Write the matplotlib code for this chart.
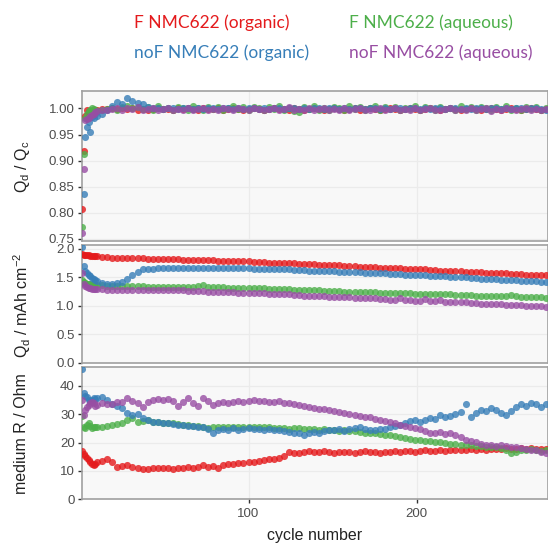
import numpy as np
import matplotlib
matplotlib.use("Agg")
import matplotlib.pyplot as plt

nan = np.nan

# cycle numbers (every cycle at start, then every 3rd cycle)
cycle = list(range(1, 10)) + list(range(10, 278, 3))

labels = ["F NMC622 (organic)", "F NMC622 (aqueous)",
          "noF NMC622 (organic)", "noF NMC622 (aqueous)"]
colors = ["#E41A1C", "#4DAF4A", "#377EB8", "#984EA3"]

# coulombic efficiency Qd / Qc
eff_F_org = [0.808, 0.918, 0.985, 0.998, 0.993, 0.995, 0.996, 0.997, 0.998,
             0.998, 0.999, 0.999, 1.000, 0.999, 1.000, 0.999, 1.000, 0.998, 0.999,
             0.998, 0.999, 1.000, 0.999, 0.999, 0.998, 1.000, 0.999, 1.000, 0.999,
             0.998, 1.000, 0.999, 0.999, 1.000, 0.998, 0.999, 1.000, 0.999, 0.998,
             0.999, 1.000, 0.999, 0.998, 0.999, 1.000, 0.999, 0.999, 0.998, 1.000,
             0.999, 0.998, 0.999, 1.000, 0.999, 0.998, 0.999, 1.000, 0.999, 0.998,
             0.999, 1.000, 0.998, 0.999, 1.000, 0.999, 0.998, 0.999, 1.000, 0.999,
             0.998, 0.999, 1.000, 0.999, 0.998, 0.999, 1.000, 0.999, 0.998, 0.999,
             1.000, 0.999, 0.998, 0.999, 1.000, 0.999, 0.998, 0.999, 1.000, 0.999,
             0.998, 0.999, 1.000, 0.999, 0.998, 0.999, 1.000, 0.999, 0.998, 0.999]
eff_F_aq = [0.773, 0.913, 0.982, 0.990, 0.996, 0.998, 1.000, 0.999, 0.997,
            0.995, 0.997, 0.999, 1.001, 0.998, 1.002, 1.004, 1.000, 1.003, 0.999,
            1.002, 0.998, 1.004, 0.999, 1.001, 0.997, 1.003, 1.000, 0.998, 1.005,
            1.001, 0.998, 1.003, 0.999, 1.002, 0.997, 1.001, 1.004, 0.999, 1.002,
            0.998, 1.003, 1.000, 0.997, 1.002, 0.999, 1.004, 0.998, 1.001, 0.996,
            0.993, 1.002, 0.999, 1.004, 0.998, 1.001, 0.997, 1.003, 1.000, 0.998,
            1.005, 0.999, 1.002, 0.997, 1.001, 1.004, 0.998, 1.002, 0.999, 1.003,
            0.997, 1.001, 0.999, 1.005, 0.998, 1.002, 1.000, 0.997, 1.003, 0.999,
            1.001, 0.998, 1.004, 0.999, 1.002, 0.997, 1.003, 1.000, 0.998, 1.002,
            0.999, 1.004, 0.997, 1.001, 0.998, 1.003, 0.999, 1.002, 0.997, 1.000]
eff_noF_org = [nan, 0.836, 0.946, 0.965, 0.975, 0.955, 0.984, 0.982, 0.990,
               0.985, 0.990, 0.998, 1.004, 1.012, 1.008, 1.021, 1.014, 1.010, 1.008,
               1.003, 1.001, 1.000, 0.999, 1.001, 1.000, 0.999, 1.000, 1.001, 0.999,
               1.000, 0.999, 1.001, 1.000, 0.999, 1.000, 1.001, 0.999, 1.000, 0.999,
               1.000, 1.001, 0.999, 1.000, 0.999, 1.001, 1.000, 0.999, 1.000, 1.001,
               0.999, 1.000, 0.999, 1.001, 1.000, 0.999, 1.000, 1.001, 0.999, 1.000,
               0.999, 1.001, 1.000, 0.999, 1.000, 1.001, 0.999, 1.000, 0.999, 1.001,
               1.000, 0.999, 1.000, 1.001, 0.999, 1.000, 0.999, 1.001, 1.000, 0.999,
               1.000, 1.001, 0.999, 1.000, 0.999, 1.001, 1.000, 0.999, 1.000, 1.001,
               0.999, 1.000, 0.999, 1.001, 1.000, 0.999, 1.000, 1.001, 0.999, 0.998]
eff_noF_aq = [0.761, 0.884, 0.977, 0.980, 0.982, 0.985, 0.988, 0.990, 0.993,
              0.995, 0.997, 0.998, 0.999, 1.001, 0.998, 1.000, 0.999, 1.002, 0.998,
              0.999, 1.000, 0.998, 0.999, 1.001, 0.998, 0.999, 0.997, 1.000, 0.998,
              0.999, 1.000, 0.998, 0.999, 0.997, 1.000, 0.999, 0.998, 1.000, 0.999,
              0.998, 1.000, 0.999, 0.997, 0.999, 1.000, 0.998, 0.999, 1.002, 0.998,
              0.999, 0.997, 1.000, 0.998, 0.999, 1.001, 0.998, 0.999, 0.997, 1.000,
              0.998, 0.999, 1.000, 0.998, 0.997, 0.999, 1.000, 0.998, 0.999, 1.001,
              0.998, 0.999, 0.997, 1.000, 0.998, 0.999, 1.000, 0.998, 0.997, 0.999,
              1.000, 0.998, 0.999, 0.997, 1.000, 0.998, 0.999, 1.000, 0.996, 0.999,
              0.998, 1.000, 0.999, 0.997, 0.999, 1.000, 0.998, 0.999, 0.997, 0.999]

# discharge capacity Qd / mAh cm-2
cap_F_org = [1.91, 1.90, 1.90, 1.89, 1.89, 1.88, 1.88, 1.87, 1.87,
             1.87, 1.86, 1.86, 1.85, 1.85, 1.85, 1.84, 1.84, 1.84, 1.84,
             1.83, 1.83, 1.83, 1.82, 1.82, 1.82, 1.82, 1.81, 1.81, 1.81,
             1.80, 1.80, 1.80, 1.80, 1.79, 1.79, 1.79, 1.78, 1.78, 1.78,
             1.78, 1.77, 1.77, 1.77, 1.76, 1.76, 1.76, 1.75, 1.75, 1.75,
             1.74, 1.74, 1.73, 1.73, 1.72, 1.72, 1.72, 1.71, 1.71, 1.70,
             1.70, 1.70, 1.69, 1.69, 1.68, 1.68, 1.67, 1.67, 1.67, 1.66,
             1.66, 1.65, 1.65, 1.64, 1.64, 1.64, 1.63, 1.63, 1.62, 1.62,
             1.61, 1.61, 1.61, 1.60, 1.60, 1.59, 1.59, 1.58, 1.58, 1.58,
             1.57, 1.57, 1.56, 1.56, 1.56, 1.55, 1.55, 1.54, 1.54, 1.54]
cap_F_aq = [1.45, 1.42, 1.40, 1.39, 1.38, 1.38, 1.37, 1.37, 1.37,
            1.36, 1.36, 1.35, 1.35, 1.35, 1.35, 1.35, 1.35, 1.35, 1.35,
            1.34, 1.34, 1.34, 1.34, 1.34, 1.34, 1.34, 1.33, 1.33, 1.34,
            1.35, 1.36, 1.34, 1.33, 1.33, 1.33, 1.32, 1.32, 1.32, 1.32,
            1.32, 1.31, 1.31, 1.31, 1.30, 1.30, 1.29, 1.29, 1.29, 1.28,
            1.28, 1.28, 1.27, 1.27, 1.27, 1.26, 1.26, 1.26, 1.26, 1.25,
            1.25, 1.25, 1.24, 1.24, 1.24, 1.24, 1.23, 1.23, 1.23, 1.22,
            1.22, 1.22, 1.22, 1.21, 1.21, 1.21, 1.21, 1.20, 1.20, 1.20,
            1.20, 1.19, 1.19, 1.19, 1.19, 1.18, 1.18, 1.18, 1.18, 1.17,
            1.17, 1.17, 1.19, 1.17, 1.16, 1.16, 1.15, 1.15, 1.15, 1.14]
cap_noF_org = [2.04, 1.70, 1.62, 1.58, 1.55, 1.52, 1.49, 1.47, 1.45,
               1.44, 1.41, 1.39, 1.39, 1.40, 1.42, 1.48, 1.55, 1.60, 1.64,
               1.65, 1.65, 1.66, 1.66, 1.66, 1.67, 1.67, 1.67, 1.67, 1.67,
               1.67, 1.67, 1.67, 1.66, 1.66, 1.66, 1.66, 1.66, 1.66, 1.66,
               1.66, 1.65, 1.65, 1.65, 1.65, 1.64, 1.64, 1.64, 1.64, 1.63,
               1.63, 1.63, 1.62, 1.62, 1.62, 1.61, 1.61, 1.61, 1.60, 1.60,
               1.60, 1.59, 1.59, 1.58, 1.58, 1.58, 1.57, 1.57, 1.56, 1.56,
               1.56, 1.55, 1.55, 1.55, 1.54, 1.54, 1.53, 1.53, 1.52, 1.52,
               1.51, 1.51, 1.50, 1.50, 1.49, 1.49, 1.48, 1.48, 1.47, 1.47,
               1.46, 1.46, 1.45, 1.45, 1.44, 1.44, 1.43, 1.43, 1.42, 1.42]
cap_noF_aq = [1.57, 1.38, 1.35, 1.33, 1.32, 1.31, 1.30, 1.30, 1.29,
              1.29, 1.29, 1.28, 1.28, 1.28, 1.28, 1.28, 1.28, 1.28, 1.28,
              1.28, 1.28, 1.27, 1.27, 1.27, 1.27, 1.27, 1.27, 1.26, 1.26,
              1.26, 1.26, 1.25, 1.25, 1.25, 1.24, 1.24, 1.24, 1.23, 1.23,
              1.23, 1.22, 1.22, 1.22, 1.21, 1.21, 1.20, 1.20, 1.20, 1.19,
              1.19, 1.18, 1.18, 1.17, 1.17, 1.17, 1.16, 1.16, 1.15, 1.15,
              1.15, 1.14, 1.14, 1.13, 1.13, 1.13, 1.12, 1.12, 1.11, 1.11,
              1.13, 1.10, 1.10, 1.09, 1.09, 1.12, 1.08, 1.08, 1.10, 1.07,
              1.07, 1.06, 1.06, 1.06, 1.05, 1.05, 1.04, 1.04, 1.03, 1.03,
              1.03, 1.02, 1.02, 1.01, 1.01, 1.00, 1.00, 0.99, 0.99, 0.98]

# medium resistance / Ohm
res_F_org = [17.0, 16.0, 15.3, 14.5, 13.8, 13.2, 12.6, 12.2, 12.6,
             13.0, 13.6, 14.2, 13.2, 11.5, 11.8, 12.0, 11.4, 11.1, 10.8,
             10.7, 10.9, 11.1, 11.0, 10.9, 10.8, 11.2, 11.0, 11.3, 11.0,
             11.5, 12.0, 11.3, 11.6, 11.2, 12.1, 12.4, 12.3, 12.8, 12.9,
             13.2, 13.3, 13.6, 13.9, 14.1, 14.3, 14.6, 15.2, 16.5, 16.3,
             16.4, 16.7, 16.9, 16.5, 16.8, 17.0, 16.6, 16.3, 16.7, 16.5,
             16.8, 16.4, 16.6, 16.9, 16.5, 16.7, 16.4, 16.8, 16.6, 16.9,
             16.7, 16.9, 17.1, 16.8, 17.0, 17.2, 16.9, 17.1, 17.3, 17.0,
             17.4, 17.2, 17.5, 17.3, 17.6, 17.4, 17.7, 17.5, 17.8, 17.6,
             17.7, 17.9, 17.6, 17.8, 18.0, 17.7, 17.9, 17.8, 17.6, 17.8]
res_F_aq = [29.5, 25.5, 25.0, 26.0, 26.8, 25.8, 25.0, 25.3, 25.6,
            25.4, 25.6, 25.8, 26.0, 26.4, 26.8, 27.9, 28.5, 27.4, 27.6,
            27.9, 27.3, 27.2, 27.0, 26.8, 26.9, 26.5, 26.3, 26.2, 25.8,
            25.9, 25.6, 25.2, 25.5, 25.3, 25.6, 25.4, 25.5, 25.3, 25.6,
            25.5, 25.4, 25.6, 25.3, 25.4, 25.2, 25.0, 25.2, 24.9, 25.0,
            25.1, 24.8, 24.6, 24.9, 24.5, 24.7, 24.4, 24.5, 24.2, 24.3,
            24.0, 23.9, 23.6, 23.4, 23.3, 23.2, 22.9, 22.8, 22.5, 22.3,
            22.0, 21.7, 21.4, 21.0, 20.9, 20.6, 20.4, 20.2, 20.1, 19.8,
            19.6, 19.4, 19.3, 19.1, 19.0, 18.8, 18.6, 18.4, 18.3, 18.5,
            18.2, 17.4, 16.3, 16.6, 17.2, 17.5, 17.8, 17.4, 16.9, 17.2]
res_noF_org = [46.0, 37.3, 36.5, 36.0, 35.0, 34.5, 35.0, 35.6, 35.3,
               35.8, 35.9, 34.8, 33.5, 32.8, 32.0, 30.3, 29.7, 30.2, 28.5,
               27.9, 27.4, 27.1, 26.9, 26.8, 26.5, 26.3, 26.0, 25.7, 25.9,
               25.6, 25.6, 24.6, 23.4, 24.3, 24.9, 24.5, 25.0, 24.4, 24.8,
               25.0, 24.6, 24.9, 24.5, 24.8, 24.3, 24.4, 24.1, 23.7, 23.4,
               23.2, 22.8, 23.4, 23.8, 23.5, 24.2, 24.5, 24.3, 24.6, 24.2,
               24.8, 25.2, 25.6, 24.9, 24.5, 24.3, 24.6, 24.9, 25.4, 25.9,
               26.3, 26.8, 27.5, 27.9, 27.4, 28.1, 28.5, 28.2, 29.7, 29.0,
               29.4, 30.2, 30.9, 33.4, 29.1, 30.4, 31.4, 31.2, 32.0, 31.5,
               30.3, 29.8, 31.2, 32.6, 33.4, 33.0, 33.8, 33.5, 32.4, 33.4]
res_noF_aq = [35.0, 29.7, 31.5, 32.6, 33.2, 34.0, 34.4, 33.8, 33.0,
              33.2, 33.8, 33.6, 33.4, 34.2, 34.4, 35.6, 34.6, 33.8, 32.6,
              34.4, 34.8, 35.2, 35.0, 35.2, 34.6, 32.8, 34.2, 35.6, 34.0,
              32.8, 35.8, 34.6, 33.2, 34.0, 34.4, 33.8, 34.2, 34.6, 34.4,
              34.6, 34.8, 34.5, 34.7, 34.4, 34.2, 34.5, 34.0, 33.8, 33.5,
              33.2, 32.9, 32.4, 32.3, 31.9, 31.7, 31.5, 31.2, 30.8, 30.5,
              30.2, 29.8, 29.5, 29.1, 28.9, 28.4, 28.0, 27.6, 27.3, 26.7,
              26.2, 25.9, 25.4, 25.0, 24.6, 24.0, 23.4, 23.2, 23.6, 23.1,
              23.2, 22.5, 21.8, 21.0, 20.6, 20.1, 19.4, 19.1, 19.0, 18.9,
              19.1, 18.7, 18.5, 18.5, 18.2, 17.8, 17.4, 17.2, 16.6, 16.2]

eff = [eff_F_org, eff_F_aq, eff_noF_org, eff_noF_aq]
cap = [cap_F_org, cap_F_aq, cap_noF_org, cap_noF_aq]
res = [res_F_org, res_F_aq, res_noF_org, res_noF_aq]

plt.rcParams["font.family"] = ["Liberation Sans", "DejaVu Sans"]

fig = plt.figure(figsize=(5.48, 5.47), dpi=100)
ax1 = fig.add_axes([0.149, 0.5594, 0.851, 0.2747])
ax2 = fig.add_axes([0.149, 0.3364, 0.851, 0.2157])
ax3 = fig.add_axes([0.149, 0.0872, 0.851, 0.2424])

for ax, data in [(ax1, eff), (ax2, cap), (ax3, res)]:
    for y, c in zip(data, colors):
        ax.scatter(cycle, y, s=26, color=c, alpha=0.8, linewidths=0, zorder=3)
    ax.set_facecolor("#F8F8F8")
    ax.grid(True, color="#EBEBEB", linewidth=0.9, zorder=0)
    ax.set_axisbelow(True)
    ax.set_xlim(0.8, 278)
    ax.set_xticks([100, 200])
    for s in ax.spines.values():
        s.set_color("#A0A0A0")
        s.set_linewidth(1.2)
    ax.tick_params(axis="y", colors="#333333", labelcolor="#4D4D4D",
                   labelsize=9.5, length=3, width=1, pad=2)
    ax.tick_params(axis="x", colors="#333333", labelcolor="#4D4D4D",
                   labelsize=9.5, length=3, width=1, pad=3)

ax1.tick_params(axis="x", length=0, labelbottom=False)
ax2.tick_params(axis="x", length=0, labelbottom=False)

ax1.set_ylim(0.746, 1.034)
ax1.set_yticks([0.75, 0.80, 0.85, 0.90, 0.95, 1.00])
ax1.set_yticklabels(["0.75", "0.80", "0.85", "0.90", "0.95", "1.00"])
ax2.set_ylim(-0.005, 2.07)
ax2.set_yticks([0.0, 0.5, 1.0, 1.5, 2.0])
ax2.set_yticklabels(["0.0", "0.5", "1.0", "1.5", "2.0"])
ax3.set_ylim(0, 46.7)
ax3.set_yticks([0, 10, 20, 30, 40])

ax3.set_xlabel("cycle number", fontsize=11.5, color="#222222", labelpad=6)

lab = dict(rotation=90, ha="center", va="center", fontsize=11.5, color="#222222")
fig.text(22 / 548, 1 - 167 / 547, r"Q$_\mathregular{d}$ / Q$_\mathregular{c}$", **lab)
fig.text(22 / 548, 1 - 305 / 547,
         r"Q$_\mathregular{d}$ / mAh cm$^{\mathregular{-2}}$", **lab)
fig.text(22 / 548, 1 - 434 / 547, "medium R / Ohm", **lab)

# legend as coloured text, two rows
leg = dict(fontsize=12.5, family=["Lato", "DejaVu Sans"], va="center", ha="left")
pos = [(134, 23), (349, 23), (134, 53), (349, 53)]
for (px, py), t, c in zip(pos, labels, colors):
    fig.text(px / 548, 1 - py / 547, t, color=c, **leg)

fig.savefig("out.png", dpi=100)
